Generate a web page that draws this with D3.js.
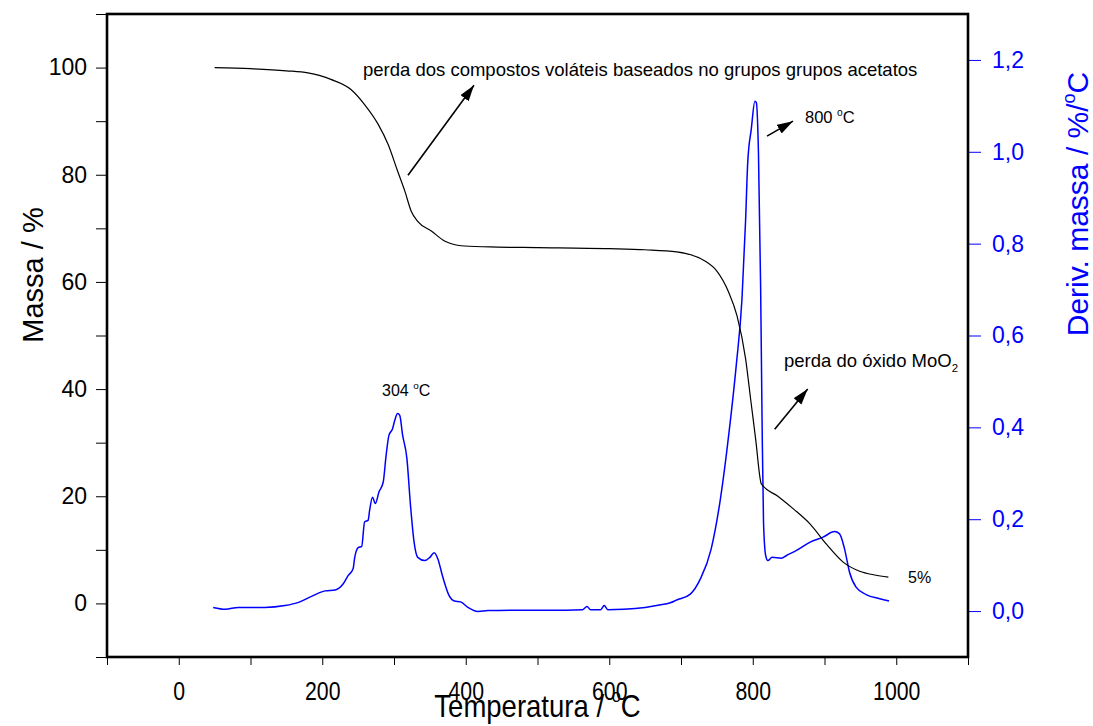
<!DOCTYPE html>
<html><head><meta charset="utf-8">
<script src="https://cdn.jsdelivr.net/npm/d3@7"></script>
<style>
body{margin:0;background:#fff}
svg text{font-family:"Liberation Sans",Arial,Helvetica,sans-serif}
</style>
</head><body><svg id="c" width="1093" height="726"></svg>
<script>
// ---- data ----
const massT = [50,100,150,180,212,240,259,278,292,305,315,324,333,352,371,398,444,500,600,650,694,732,750,766,778,790,797,804,812,835,857,880,903,926,949,970,989];
const massV = [100.0,99.8,99.4,99.0,97.8,95.9,93.1,89.4,85.6,80.7,77.0,73.2,71.3,69.5,67.6,66.7,66.5,66.4,66.2,66.0,65.6,64.0,62.0,58.2,53.7,45.7,38.2,30.7,22.3,20.0,17.6,14.8,11.0,7.7,6.0,5.3,4.9];

const dtgT = [48,65,83,120,148,167,185,204,218,229,236,243,245,250,255,259,264,266,270,274,279,285,289,293,298,301,305,308,312,318,323,328,333,343,350,356,361,368,377,384,393,403,417,431,480,540,563,569,574,588,593,598,620,650,670,685,694,713,727,742,755,767,777,785,790,793,798,803,805,808,811,813,815,818,821,827,840,847,861,880,898,914,921,928,935,944,958,977,990];
const dtgV = [0.008,0.004,0.008,0.008,0.012,0.019,0.032,0.044,0.046,0.059,0.077,0.092,0.114,0.138,0.141,0.194,0.198,0.219,0.248,0.234,0.259,0.281,0.339,0.383,0.397,0.415,0.430,0.426,0.383,0.332,0.230,0.150,0.117,0.110,0.117,0.127,0.114,0.074,0.033,0.022,0.020,0.008,-0.001,0.001,0.002,0.002,0.003,0.010,0.003,0.003,0.012,0.003,0.004,0.008,0.013,0.018,0.024,0.037,0.070,0.135,0.245,0.39,0.535,0.68,0.85,0.977,1.05,1.11,1.107,0.994,0.703,0.412,0.194,0.121,0.110,0.117,0.115,0.121,0.132,0.150,0.161,0.173,0.168,0.135,0.084,0.052,0.036,0.027,0.022];

const xMajor = [0,200,400,600,800,1000];
const xAll = [-100,0,100,200,300,400,500,600,700,800,900,1000,1100];
const leftMajor = [0,20,40,60,80,100];
const leftAll = [-10,0,10,20,30,40,50,60,70,80,90,100,110];
const rightTicks = [0,0.2,0.4,0.6,0.8,1.0,1.2];
const rightLabels = ["0,0","0,2","0,4","0,6","0,8","1,0","1,2"];

// annotation text anchors (in T / mass% units)
const notes = [
  {T:256.8, m:98.4, size:18.5, parts:[{t:"perda dos compostos voláteis baseados no grupos grupos acetatos"}]},
  {T:872.8, m:89.6, size:16.5, parts:[{t:"800 "},{t:"o",sup:true},{t:"C"}]},
  {T:843.6, m:44.1, size:18.5, parts:[{t:"perda do óxido MoO"},{t:"2",sub:true}]},
  {T:283.3, m:38.7, size:16, parts:[{t:"304 "},{t:"o",sup:true},{t:"C"}]},
  {T:1016.4, m:3.85, size:16, parts:[{t:"5%"}]}
];
const arrows = [
  {T0:319.5, m0:79.9, T1:411.5, m1:96.7},
  {T0:819.9, m0:87.2, T1:856.1, m1:90.0},
  {T0:830.6, m0:32.5, T1:876.6, m1:40.0}
];

// ---- layout ----
const L = 107, R = 968, T = 14, B = 657;
const svg = d3.select("#c");
svg.append("rect").attr("width",1093).attr("height",726).attr("fill","#fff");

const x = d3.scaleLinear().domain([-100,1100]).range([L,R]);
const yL = d3.scaleLinear().domain([-10,110]).range([B,T]);
const yR = d3.scaleLinear().domain([-0.1,1.3]).range([B,T]);

// axes
const fmtX = d => xMajor.includes(d) ? String(d) : "";
const gx = svg.append("g").attr("transform",`translate(0,${B})`)
  .call(d3.axisBottom(x).tickValues(xAll).tickFormat(fmtX).tickSize(8).tickPadding(17));
gx.select(".domain").remove();
gx.selectAll("line").attr("stroke","#000").attr("stroke-width",1);
gx.selectAll("text").attr("font-size",25).attr("fill","#000").attr("font-family",null)
  .attr("transform","scale(0.85,1)");

const gl = svg.append("g").attr("transform",`translate(${L},0)`)
  .call(d3.axisLeft(yL).tickValues(leftAll).tickFormat(d => leftMajor.includes(d) ? String(d) : "").tickSize(11).tickPadding(9));
gl.select(".domain").remove();
gl.selectAll("line").attr("stroke","#000").attr("stroke-width",1);
gl.selectAll("text").attr("font-size",23).attr("fill","#000").attr("font-family",null);

const gr = svg.append("g").attr("transform",`translate(${R},0)`)
  .call(d3.axisRight(yR).tickValues(rightTicks).tickFormat((d,i) => rightLabels[i]).tickSize(13).tickPadding(11));
gr.select(".domain").remove();
gr.selectAll("line").attr("stroke","#0000ff").attr("stroke-width",1);
gr.selectAll("text").attr("font-size",23).attr("fill","#0000ff").attr("font-family",null);

// curves
svg.append("clipPath").attr("id","pc").append("rect")
  .attr("x",L).attr("y",T).attr("width",R-L).attr("height",B-T);
const massData = massT.map((t,i)=>[t,massV[i]]);
const dtgData = dtgT.map((t,i)=>[t,dtgV[i]]);
svg.append("path").datum(dtgData).attr("clip-path","url(#pc)")
  .attr("fill","none").attr("stroke","#0000ff").attr("stroke-width",1.5)
  .attr("d", d3.line().x(d=>x(d[0])).y(d=>yR(d[1])).curve(d3.curveMonotoneX));
svg.append("path").datum(massData).attr("clip-path","url(#pc)")
  .attr("fill","none").attr("stroke","#000").attr("stroke-width",1.2)
  .attr("d", d3.line().x(d=>x(d[0])).y(d=>yL(d[1])).curve(d3.curveMonotoneX));

// frame
svg.append("rect").attr("x",L).attr("y",T).attr("width",R-L).attr("height",B-T)
  .attr("fill","none").attr("stroke","#000").attr("stroke-width",2.6);

// arrows
svg.append("defs").append("marker").attr("id","ah")
  .attr("markerUnits","userSpaceOnUse").attr("markerWidth",18).attr("markerHeight",12)
  .attr("refX",16).attr("refY",5).attr("orient","auto")
  .append("path").attr("d","M0,0 L16,5 L0,10 Z").attr("fill","#000");
svg.selectAll("line.arr").data(arrows).join("line").attr("class","arr")
  .attr("x1",d=>x(d.T0)).attr("y1",d=>yL(d.m0))
  .attr("x2",d=>x(d.T1)).attr("y2",d=>yL(d.m1))
  .attr("stroke","#000").attr("stroke-width",1.6).attr("marker-end","url(#ah)");

// annotations
notes.forEach(n => {
  const t = svg.append("text").attr("x",x(n.T)).attr("y",yL(n.m)).attr("font-size",n.size).attr("fill","#000");
  let shift = 0;
  n.parts.forEach(p => {
    const s = t.append("tspan").text(p.t);
    let target = 0;
    if (p.sup) { s.attr("font-size", n.size*0.62); target = -n.size*0.42; }
    else if (p.sub) { s.attr("font-size", n.size*0.62); target = n.size*0.25; }
    if (target !== shift) { s.attr("dy", target - shift); shift = target; }
  });
});

// axis titles
const xt = svg.append("g").attr("transform",`translate(${(L+R)/2},717) scale(0.86,1)`)
  .append("text").attr("text-anchor","middle").attr("font-size",32).attr("fill","#000");
xt.append("tspan").text("Temperatura / ");
xt.append("tspan").text("o").attr("font-size",19).attr("dy",-15);
xt.append("tspan").text("C").attr("dy",15);

svg.append("text").attr("transform","translate(43,275) rotate(-90)").attr("text-anchor","middle")
  .attr("font-size",29).attr("fill","#000").text("Massa / %");

const rt = svg.append("text").attr("transform","translate(1088,204) rotate(-90)").attr("text-anchor","middle")
  .attr("font-size",30).attr("fill","#0000ff");
rt.append("tspan").text("Deriv. massa / %/");
rt.append("tspan").text("o").attr("font-size",18).attr("dy",-13);
rt.append("tspan").text("C").attr("dy",13);
</script>
</body></html>
